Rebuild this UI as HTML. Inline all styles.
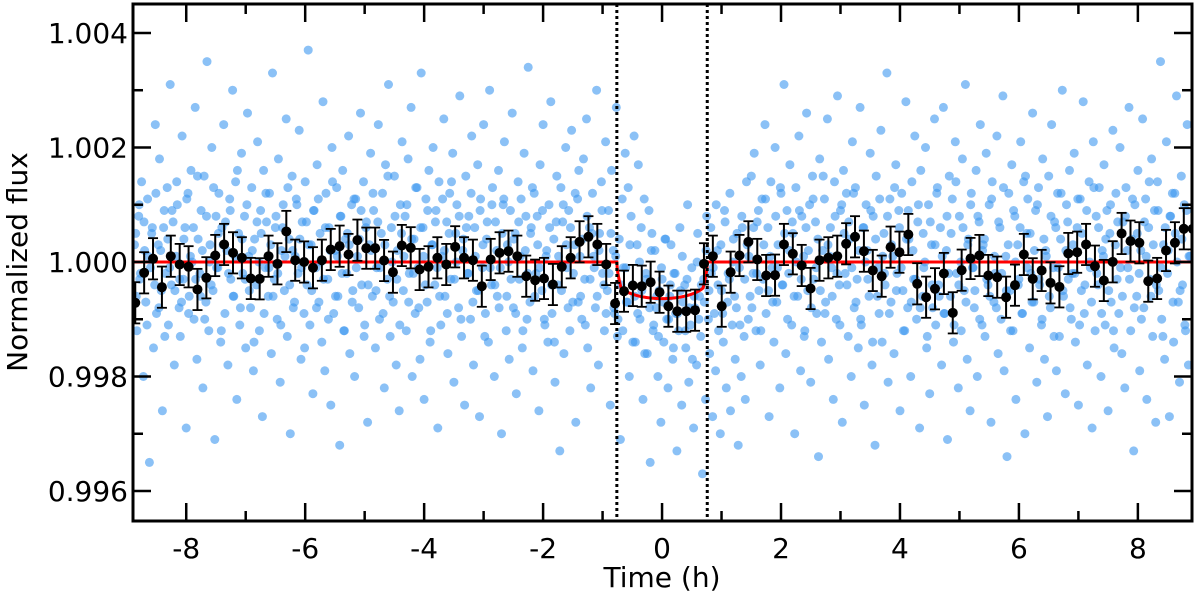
<!DOCTYPE html>
<html><head><meta charset="utf-8"><style>
html,body{margin:0;padding:0;background:#fff;}
svg{display:block;font-family:"DejaVu Sans","Liberation Sans",sans-serif;}
</style></head><body>
<svg id="chart" width="1200" height="595" viewBox="0 0 1200 595" xmlns="http://www.w3.org/2000/svg">
<defs><clipPath id="pc"><rect x="133" y="4" width="1059" height="517"/></clipPath></defs>
<g id="scatter" clip-path="url(#pc)"></g>
<g id="model" clip-path="url(#pc)"></g>
<g id="bins" clip-path="url(#pc)"></g>
<g id="axes"></g>
<text x="662" y="587" font-size="28" text-anchor="middle">Time (h)</text>
<text transform="translate(27,262) rotate(-90)" font-size="28" text-anchor="middle">Normalized flux</text>
</svg>
<script>
// binned data (flux offsets in ppm)
const binStart = -8.857;
const binStep = 0.1494;
const binFlux = [-713,-189,56,-440,101,-44,-84,-480,-276,113,306,160,73,-288,-294,101,-32,533,31,0,-101,31,218,276,131,381,241,241,26,-178,288,248,-131,-84,73,-44,265,73,31,-423,44,
160,189,101,-248,-318,-288,-393,-84,73,352,440,306,-44,-725,-510,-411,-423,-353,-528,-772,-860,-860,-842,-32,101,-772,-178,113,352,44,-236,-230,306,143,-61,-463,31,73,101,
318,440,189,-148,-248,259,171,480,-381,-615,-468,-201,-888,-143,61,113,-236,-265,-615,-405,131,-294,-148,-364,-434,148,171,306,-73,-323,3,498,364,335,-335,-288,201,335,580,580];
const binErr = 360;
// raw scatter points batch 1: time (h), flux offset (units of 1e-4)
const rawT = [
-8.85,-8.83,-8.8,-8.78,-8.75,-8.72,-8.7,-8.68,-8.65,-8.62,-8.6,-8.57,-8.55,-8.52,-8.5,-8.47,-8.45,-8.42,-8.4,-8.37,-8.35,-8.32,-8.3,-8.27,-8.25,-8.22,-8.2,-8.17,-8.15,-8.12,
-8.1,-8.07,-8.05,-8.02,-8,-7.97,-7.95,-7.92,-7.9,-7.87,-7.85,-7.82,-7.8,-7.77,-7.75,-7.72,-7.7,-7.67,-7.65,-7.62,-7.6,-7.57,-7.55,-7.52,-7.5,-7.47,-7.45,-7.42,-7.4,-7.37,
-7.35,-7.32,-7.3,-7.27,-7.25,-7.22,-7.2,-7.17,-7.15,-7.12,-7.1,-7.07,-7.05,-7.02,-7,-6.97,-6.95,-6.92,-6.9,-6.87,-6.85,-6.82,-6.8,-6.77,-6.75,-6.72,-6.7,-6.67,-6.65,-6.62,
-6.6,-6.57,-6.55,-6.52,-6.5,-6.47,-6.45,-6.42,-6.4,-6.37,-6.35,-6.32,-6.3,-6.27,-6.25,-6.22,-6.2,-6.17,-6.15,-6.12,-6.1,-6.07,-6.05,-6.02,-6,-5.97,-5.95,-5.92,-5.9,-5.87,
-5.85,-5.82,-5.8,-5.77,-5.75,-5.72,-5.7,-5.67,-5.65,-5.62,-5.6,-5.57,-5.55,-5.52,-5.5,-5.47,-5.45,-5.42,-5.4,-5.37,-5.35,-5.32,-5.3,-5.27,-5.25,-5.22,-5.2,-5.17,-5.15,-5.12,
-5.1,-5.07,-5.05,-5.02,-5,-4.97,-4.95,-4.92,-4.9,-4.87,-4.85,-4.82,-4.8,-4.77,-4.75,-4.72,-4.7,-4.67,-4.65,-4.62,-4.6,-4.57,-4.55,-4.52,-4.5,-4.47,-4.45,-4.42,-4.4,-4.37,
-4.35,-4.32,-4.3,-4.27,-4.25,-4.22,-4.2,-4.17,-4.15,-4.12,-4.1,-4.07,-4.05,-4.02,-4,-3.97,-3.95,-3.92,-3.9,-3.87,-3.85,-3.82,-3.8,-3.77,-3.75,-3.72,-3.7,-3.67,-3.65,-3.62,
-3.6,-3.57,-3.55,-3.52,-3.5,-3.47,-3.45,-3.42,-3.4,-3.37,-3.35,-3.32,-3.3,-3.27,-3.25,-3.22,-3.2,-3.17,-3.15,-3.12,-3.1,-3.07,-3.05,-3.02,-3,-2.97,-2.95,-2.92,-2.9,-2.87,
-2.85,-2.82,-2.8,-2.77,-2.75,-2.72,-2.7,-2.67,-2.65,-2.62,-2.6,-2.57,-2.55,-2.52,-2.5,-2.47,-2.45,-2.42,-2.4,-2.37,-2.35,-2.32,-2.3,-2.27,-2.25,-2.22,-2.2,-2.17,-2.15,-2.12,
-2.1,-2.07,-2.05,-2.02,-2,-1.97,-1.95,-1.92,-1.9,-1.87,-1.85,-1.82,-1.8,-1.77,-1.75,-1.72,-1.7,-1.67,-1.65,-1.62,-1.6,-1.57,-1.55,-1.52,-1.5,-1.47,-1.45,-1.42,-1.4,-1.37,
-1.35,-1.32,-1.3,-1.27,-1.25,-1.22,-1.2,-1.17,-1.15,-1.12,-1.1,-1.07,-1.05,-1.02,-1,-0.97,-0.95,-0.92,-0.9,-0.87,-0.85,-0.82,-0.8,-0.77,-0.75,-0.72,-0.7,-0.67,-0.65,-0.62,
-0.6,-0.57,-0.55,-0.52,-0.5,-0.47,-0.45,-0.42,-0.4,-0.37,-0.35,-0.32,-0.3,-0.27,-0.25,-0.22,-0.2,-0.17,-0.15,-0.12,-0.1,-0.07,-0.05,-0.02,0,0.03,0.05,0.08,0.1,0.13,
0.15,0.18,0.2,0.23,0.25,0.28,0.3,0.33,0.35,0.38,0.4,0.43,0.45,0.48,0.5,0.53,0.55,0.58,0.6,0.63,0.65,0.68,0.7,0.73,0.75,0.78,0.8,0.83,0.85,0.88,
0.9,0.93,0.95,0.98,1,1.03,1.05,1.08,1.1,1.13,1.15,1.18,1.2,1.23,1.25,1.28,1.3,1.33,1.35,1.38,1.4,1.43,1.45,1.48,1.5,1.53,1.55,1.58,1.6,1.63,
1.65,1.68,1.7,1.73,1.75,1.78,1.8,1.83,1.85,1.88,1.9,1.93,1.95,1.98,2,2.03,2.05,2.08,2.1,2.13,2.15,2.18,2.2,2.23,2.25,2.28,2.3,2.33,2.35,2.38,
2.4,2.43,2.45,2.48,2.5,2.53,2.55,2.58,2.6,2.63,2.65,2.68,2.7,2.73,2.75,2.78,2.8,2.83,2.85,2.88,2.9,2.93,2.95,2.98,3,3.03,3.05,3.08,3.1,3.13,
3.15,3.18,3.2,3.23,3.25,3.28,3.3,3.33,3.35,3.38,3.4,3.43,3.45,3.48,3.5,3.53,3.55,3.58,3.6,3.63,3.65,3.68,3.7,3.73,3.75,3.78,3.8,3.83,3.85,3.88,
3.9,3.93,3.95,3.98,4,4.03,4.05,4.08,4.1,4.13,4.15,4.18,4.2,4.23,4.25,4.28,4.3,4.33,4.35,4.38,4.4,4.43,4.45,4.48,4.5,4.53,4.55,4.58,4.6,4.63,
4.65,4.68,4.7,4.73,4.75,4.78,4.8,4.83,4.85,4.88,4.9,4.93,4.95,4.98,5,5.03,5.05,5.08,5.1,5.13,5.15,5.18,5.2,5.23,5.25,5.28,5.3,5.33,5.35,5.38,
5.4,5.43,5.45,5.48,5.5,5.53,5.55,5.58,5.6,5.63,5.65,5.68,5.7,5.73,5.75,5.78,5.8,5.83,5.85,5.88,5.9,5.93,5.95,5.98,6,6.03,6.05,6.08,6.1,6.13,
6.15,6.18,6.2,6.23,6.25,6.28,6.3,6.33,6.35,6.38,6.4,6.43,6.45,6.48,6.5,6.53,6.55,6.58,6.6,6.63,6.65,6.68,6.7,6.73,6.75,6.78,6.8,6.83,6.85,6.88,
6.9,6.93,6.95,6.98,7,7.03,7.05,7.08,7.1,7.13,7.15,7.18,7.2,7.23,7.25,7.28,7.3,7.33,7.35,7.38,7.4,7.43,7.45,7.48,7.5,7.53,7.55,7.58,7.6,7.63,
7.65,7.68,7.7,7.73,7.75,7.78,7.8,7.83,7.85,7.88,7.9,7.93,7.95,7.98,8,8.03,8.05,8.08,8.1,8.13,8.15,8.18,8.2,8.23,8.25,8.28,8.3,8.33,8.35,8.38,
8.4,8.43,8.45,8.48,8.5,8.53,8.55,8.58,8.6,8.63,8.65,8.68,8.7,8.73,8.75,8.78,8.8,8.83,8.85,8.88];
const rawF = [
5,-12,8,-3,14,-20,2,-7,11,-35,-1,6,-15,24,-9,3,18,-5,-26,9,-2,13,-11,31,-4,7,-18,1,10,-8,
-13,22,-3,6,-29,12,-6,16,0,-10,27,-17,4,-2,9,-22,15,-7,35,-12,3,20,-5,-31,8,-1,12,-14,6,24,
-9,2,-18,11,-3,30,-6,14,-24,5,-11,19,-2,8,-15,26,1,-8,13,-19,4,-4,21,-12,9,-27,16,-1,7,-6,
12,-16,33,-3,6,-10,18,-21,2,10,-5,25,-13,4,-30,15,-8,1,11,-2,23,-17,7,-9,14,-4,37,-11,3,-23,
9,-1,17,-7,5,-14,28,-19,12,-3,6,-25,20,-9,2,13,-6,-32,8,16,-12,4,-2,22,-16,10,-5,-20,11,1,
-8,26,-4,14,-11,7,-28,3,19,-6,9,-15,-1,24,-10,5,12,-22,17,-3,31,-13,6,-7,15,-18,2,-26,10,21,
-5,8,-12,18,-2,27,-20,4,-9,13,-1,-17,33,6,-24,11,-7,16,-14,3,20,-4,9,-29,14,-11,1,25,-6,7,
-16,12,-3,19,-21,5,10,-8,29,-13,2,-25,15,-2,8,-10,22,-18,6,-5,17,-27,11,-1,24,-9,4,-14,30,-4,
13,-20,7,-6,16,-1,-30,10,21,-12,3,-17,9,26,-8,5,-23,14,-3,11,-15,19,2,-10,34,-7,6,-19,12,-2,
8,-26,17,-5,24,-11,1,-14,10,28,-9,4,-21,15,-4,-33,13,7,-16,20,-1,9,-12,23,-7,3,-28,11,16,-6,
-10,18,-3,25,-15,6,-22,12,1,-8,30,-18,5,14,-2,-12,21,-5,9,-25,16,2,-9,27,-13,4,-31,11,-1,19,
-7,13,-20,8,-4,22,-14,3,17,-10,6,-24,11,-2,-16,9,-35,5,-12,2,-8,-20,-5,-28,-3,-14,4,-10,-22,-6,
3,-17,-2,-9,-33,-12,6,-25,-7,-4,-15,10,-21,-11,-1,-29,-8,-18,5,-6,-13,-37,-3,-24,8,-10,-16,-2,-27,-9,
-19,2,-12,-30,-5,-14,9,-22,-7,-3,-26,-11,4,-17,-8,-32,-1,-20,6,-13,-24,3,-10,-6,15,-2,19,-12,7,-5,
-18,11,-3,24,-9,6,-27,14,-1,-14,20,-7,3,-22,12,-4,31,-16,9,-2,17,-11,5,-30,13,-6,22,-19,8,1,
-12,26,-5,10,-21,15,-3,7,-9,-34,18,-14,2,11,-7,25,-17,6,-1,-24,14,-10,29,-4,9,-28,16,-2,12,-13,
4,-20,21,-8,13,-3,-15,27,-11,6,-25,10,2,-6,19,-18,8,-32,15,-1,-9,23,-14,5,-4,33,-21,11,-7,1,
-16,17,-2,9,-26,12,-5,-12,28,-8,4,-20,14,-3,22,-10,7,-29,16,-6,-1,20,-15,10,-23,3,-8,25,-11,13,
-4,6,-18,27,-9,2,-31,15,-6,11,-14,21,-2,-22,8,-12,18,-5,31,-17,4,-26,12,-1,-8,16,-20,7,24,-11,
3,-13,19,-4,10,-28,14,-7,-2,22,-16,6,-10,29,-19,1,-34,12,-5,17,-12,8,-24,3,-3,21,-9,14,-30,5,
11,-15,-2,26,-7,9,-21,13,-4,-11,18,-17,2,-27,15,-8,24,-1,7,-19,12,-13,4,30,-6,-23,10,-3,16,-10,
-2,19,-14,6,-25,11,-5,28,-9,3,-18,14,-1,-29,21,-12,8,-4,13,-20,2,17,-11,9,-26,5,-7,23,-15,12,
-3,-9,20,-16,7,-22,13,-1,27,-12,4,-33,10,-6,16,-19,2,25,-8,11,-24,6,-3,18,-13,9,-28,14,-5,35,
-10,3,-17,21,-2,-27,8,12,-14,5,29,-7,-21,15,-4,10,-12,24,-18,1,-30,13,-6,19,-9,6,-23,16,-2,22];
// raw scatter points batch 2 (denser core, irregular times)
const rawT2 = [
-8.87,-8.84,-8.79,-8.77,-8.71,-8.66,-8.64,-8.58,-8.53,-8.51,-8.46,-8.43,-8.38,-8.36,-8.31,-8.28,-8.24,-8.19,-8.16,-8.11,
-8.08,-8.04,-7.99,-7.96,-7.93,-7.88,-7.84,-7.81,-7.76,-7.73,-7.69,-7.66,-7.61,-7.58,-7.54,-7.49,-7.46,-7.41,-7.38,-7.34,
-7.29,-7.26,-7.21,-7.18,-7.14,-7.09,-7.06,-7.01,-6.98,-6.94,-6.89,-6.86,-6.81,-6.78,-6.74,-6.69,-6.66,-6.61,-6.58,-6.54,
-6.49,-6.46,-6.41,-6.38,-6.34,-6.29,-6.26,-6.21,-6.18,-6.14,-6.09,-6.06,-6.01,-5.98,-5.94,-5.89,-5.86,-5.81,-5.78,-5.74,
-5.69,-5.66,-5.61,-5.58,-5.54,-5.49,-5.46,-5.41,-5.38,-5.34,-5.29,-5.26,-5.21,-5.18,-5.14,-5.09,-5.06,-5.01,-4.98,-4.94,
-4.89,-4.86,-4.81,-4.78,-4.74,-4.69,-4.66,-4.61,-4.58,-4.54,-4.49,-4.46,-4.41,-4.38,-4.34,-4.29,-4.26,-4.21,-4.18,-4.14,
-4.09,-4.06,-4.01,-3.98,-3.94,-3.89,-3.86,-3.81,-3.78,-3.74,-3.69,-3.66,-3.61,-3.58,-3.54,-3.49,-3.46,-3.41,-3.38,-3.34,
-3.29,-3.26,-3.21,-3.18,-3.14,-3.09,-3.06,-3.01,-2.98,-2.94,-2.89,-2.86,-2.81,-2.78,-2.74,-2.69,-2.66,-2.61,-2.58,-2.54,
-2.49,-2.46,-2.41,-2.38,-2.34,-2.29,-2.26,-2.21,-2.18,-2.14,-2.09,-2.06,-2.01,-1.98,-1.94,-1.89,-1.86,-1.81,-1.78,-1.74,
-1.69,-1.66,-1.61,-1.58,-1.54,-1.49,-1.46,-1.41,-1.38,-1.34,-1.29,-1.26,-1.21,-1.18,-1.14,-1.09,-1.06,-1.01,-0.98,-0.94,
-0.89,-0.86,-0.81,-0.78,-0.74,-0.69,-0.66,-0.61,-0.58,-0.54,-0.49,-0.46,-0.41,-0.38,-0.34,-0.29,-0.26,-0.21,-0.18,-0.14,
-0.09,-0.06,-0.01,0.02,0.06,0.11,0.14,0.19,0.22,0.26,0.31,0.34,0.39,0.42,0.46,0.51,0.54,0.59,0.62,0.66,
0.71,0.74,0.79,0.82,0.86,0.91,0.94,0.99,1.02,1.06,1.11,1.14,1.19,1.22,1.26,1.31,1.34,1.39,1.42,1.46,
1.51,1.54,1.59,1.62,1.66,1.71,1.74,1.79,1.82,1.86,1.91,1.94,1.99,2.02,2.06,2.11,2.14,2.19,2.22,2.26,
2.31,2.34,2.39,2.42,2.46,2.51,2.54,2.59,2.62,2.66,2.71,2.74,2.79,2.82,2.86,2.91,2.94,2.99,3.02,3.06,
3.11,3.14,3.19,3.22,3.26,3.31,3.34,3.39,3.42,3.46,3.51,3.54,3.59,3.62,3.66,3.71,3.74,3.79,3.82,3.86,
3.91,3.94,3.99,4.02,4.06,4.11,4.14,4.19,4.22,4.26,4.31,4.34,4.39,4.42,4.46,4.51,4.54,4.59,4.62,4.66,
4.71,4.74,4.79,4.82,4.86,4.91,4.94,4.99,5.02,5.06,5.11,5.14,5.19,5.22,5.26,5.31,5.34,5.39,5.42,5.46,
5.51,5.54,5.59,5.62,5.66,5.71,5.74,5.79,5.82,5.86,5.91,5.94,5.99,6.02,6.06,6.11,6.14,6.19,6.22,6.26,
6.31,6.34,6.39,6.42,6.46,6.51,6.54,6.59,6.62,6.66,6.71,6.74,6.79,6.82,6.86,6.91,6.94,6.99,7.02,7.06,
7.11,7.14,7.19,7.22,7.26,7.31,7.34,7.39,7.42,7.46,7.51,7.54,7.59,7.62,7.66,7.71,7.74,7.79,7.82,7.86,
7.91,7.94,7.99,8.02,8.06,8.11,8.14,8.19,8.22,8.26,8.31,8.34,8.39,8.42,8.46,8.51,8.54,8.59,8.62,8.66,
8.71,8.74,8.79,8.82,8.86];
const rawF2 = [
3,-6,10,-2,7,-11,1,5,-4,12,-8,2,6,-13,4,-1,9,-5,14,-3,
-7,4,11,-9,1,6,-3,15,-6,2,-10,8,0,-4,13,-1,5,-12,3,7,
-2,9,-6,1,16,-8,4,-3,10,-5,2,-14,7,0,5,-9,12,-1,3,-6,
8,-2,-11,6,1,13,-4,2,-7,10,4,-1,-15,7,3,-5,9,-8,11,0,
-3,6,-10,2,14,-6,1,8,-2,-12,5,3,-7,11,-1,4,9,-13,6,-4,
2,12,-5,7,-1,-9,3,15,-6,0,8,-3,-11,5,1,10,-7,4,-2,13,
-8,6,1,-4,9,-12,3,7,-1,-6,11,2,-9,5,14,-3,0,8,-10,4,
6,-2,12,-7,1,-5,9,3,-13,7,-1,10,-4,2,-8,5,11,-6,0,-3,
4,-9,7,1,-12,8,-2,5,13,-6,3,-1,9,-10,2,6,-4,-14,7,1,
-5,10,3,-8,6,-2,12,-7,1,4,-11,8,-3,5,-1,-6,2,9,-4,-9,
-2,5,-8,1,-10,-4,-12,-1,-7,3,-14,-6,-9,0,-5,-16,-3,-8,2,-11,
-6,-13,-1,-7,4,-10,-4,-15,-2,-9,-5,1,-12,-3,-8,-17,-6,0,-10,-4,
-7,2,-5,6,-1,10,-4,3,-9,7,-2,12,0,-6,5,-11,8,-3,14,1,
-8,6,-2,9,-12,3,11,-5,1,-7,8,-1,13,-4,5,-10,2,7,-6,0,
9,-3,-13,6,2,-8,11,-1,4,-5,15,-9,3,1,-6,8,-2,-11,10,5,
-4,7,-1,12,-7,2,-10,6,0,-3,9,-14,4,-6,11,1,-2,8,-9,3,
13,-5,6,-1,-12,4,9,-7,2,-3,10,-8,5,0,-13,7,-4,3,12,-6,
1,-9,8,-2,5,-11,14,-4,0,6,-7,3,10,-1,-5,8,-10,2,4,-3,
-6,11,1,-8,7,-2,13,-5,3,-12,9,0,-4,6,-9,15,-1,5,-7,2,
10,-3,-10,4,1,-6,8,-13,6,-1,12,-5,2,7,-8,3,-2,11,-11,5,
-4,9,0,-7,13,-2,6,-9,1,4,-5,10,-12,3,7,-1,-6,8,2,-3,
11,-8,5,-2,-10,7,1,14,-6,3,-4,9,-1,-13,6,2,8,-7,12,0,
-5,4,-11,9,1];
const xMin=-8.895, xMax=8.91, yMin=0.995476, yMax=1.004506;
const L=133,R=1192,T=4,B=521;
function xs(t){return L+(t-xMin)/(xMax-xMin)*(R-L);}
function ys(f){return B-(f-yMin)/(yMax-yMin)*(B-T);}
const NS="http://www.w3.org/2000/svg";
function mk(tag,attrs,parent){const e=document.createElementNS(NS,tag);for(const k in attrs)e.setAttribute(k,attrs[k]);parent.appendChild(e);return e;}
const gS=document.getElementById('scatter');
function drawRaw(ts,fs){
  for(let i=0;i<ts.length;i++){
    const c=mk('circle',{cx:xs(ts[i]).toFixed(1),cy:ys(1+fs[i]*1e-4).toFixed(1),r:4.5,fill:'#3e97f0','fill-opacity':0.6},gS);
    
    
  }
}
drawRaw(rawT,rawF);
drawRaw(rawT2,rawF2);
// model
const gM=document.getElementById('model');
function model(t){const T0=0.76,ing=0.07;const a=Math.abs(t);if(a>=T0)return 1;const r=Math.min(a/T0,1);const mu=Math.sqrt(Math.max(0,1-r*r));const d=640*(1-0.5*(1-mu));const f=Math.min(1,(T0-a)/ing);return 1-d*Math.sqrt(f)*1e-6;}
let dpath='';for(let t=xMin;t<=xMax;t+=0.005){dpath+=(dpath?'L':'M')+xs(t).toFixed(2)+','+ys(model(t)).toFixed(2);}
const mp=mk('path',{d:dpath,fill:'none',stroke:'#ff0000','stroke-width':3},gM);


[-0.76,0.76].forEach(t=>{const l=mk('line',{x1:xs(t),x2:xs(t),y1:T,y2:B,stroke:'#000','stroke-width':3,'stroke-dasharray':'3,3'},gM);

});
// bins
const gB=document.getElementById('bins');
for(let i=0;i<binFlux.length;i++){
  const t=binStart+binStep*i,x=xs(t),y=ys(1+binFlux[i]*1e-6),yt=ys(1+(binFlux[i]+binErr)*1e-6),yb=ys(1+(binFlux[i]-binErr)*1e-6);
  const g=mk('g',{},gB);
  
  
  mk('line',{x1:x,x2:x,y1:yt,y2:yb,stroke:'#000','stroke-width':2},g);
  mk('line',{x1:x-5,x2:x+5,y1:yt,y2:yt,stroke:'#000','stroke-width':1.8},g);
  mk('line',{x1:x-5,x2:x+5,y1:yb,y2:yb,stroke:'#000','stroke-width':1.8},g);
  mk('circle',{cx:x,cy:y,r:5,fill:'#000'},g);
}
// axes
const gA=document.getElementById('axes');
const xTicks=[-8,-6,-4,-2,0,2,4,6,8];
const xMinor=[-7,-5,-3,-1,1,3,5,7];
const yTicks=[0.996,0.998,1.000,1.002,1.004];
const yTickLabels=['0.996','0.998','1.000','1.002','1.004'];
const yMinor=[0.997,0.999,1.001,1.003];
xTicks.forEach(v=>{const x=xs(v);
  mk('line',{x1:x,x2:x,y1:B,y2:B-18,stroke:'#000','stroke-width':2.5},gA);
  mk('line',{x1:x,x2:x,y1:T,y2:T+18,stroke:'#000','stroke-width':2.5},gA);
  const tx=mk('text',{x:x,y:B+37,'font-size':28,'text-anchor':'middle'},gA);tx.textContent=(v<0?'-':'')+Math.abs(v);
  
  });
xMinor.forEach(v=>{const x=xs(v);
  mk('line',{x1:x,x2:x,y1:B,y2:B-10,stroke:'#000','stroke-width':2.5},gA);
  mk('line',{x1:x,x2:x,y1:T,y2:T+10,stroke:'#000','stroke-width':2.5},gA);});
yTicks.forEach((v,i)=>{const y=ys(v);
  mk('line',{x1:L,x2:L+18,y1:y,y2:y,stroke:'#000','stroke-width':2.5},gA);
  mk('line',{x1:R,x2:R-18,y1:y,y2:y,stroke:'#000','stroke-width':2.5},gA);
  const tx=mk('text',{x:L-5,y:y+10,'font-size':28,'text-anchor':'end'},gA);tx.textContent=yTickLabels[i];
  
  });
yMinor.forEach(v=>{const y=ys(v);
  mk('line',{x1:L,x2:L+10,y1:y,y2:y,stroke:'#000','stroke-width':2.5},gA);
  mk('line',{x1:R,x2:R-10,y1:y,y2:y,stroke:'#000','stroke-width':2.5},gA);});
const fr=mk('rect',{x:L,y:T,width:R-L,height:B-T,fill:'none',stroke:'#000','stroke-width':3},gA);


</script>
</body></html>
